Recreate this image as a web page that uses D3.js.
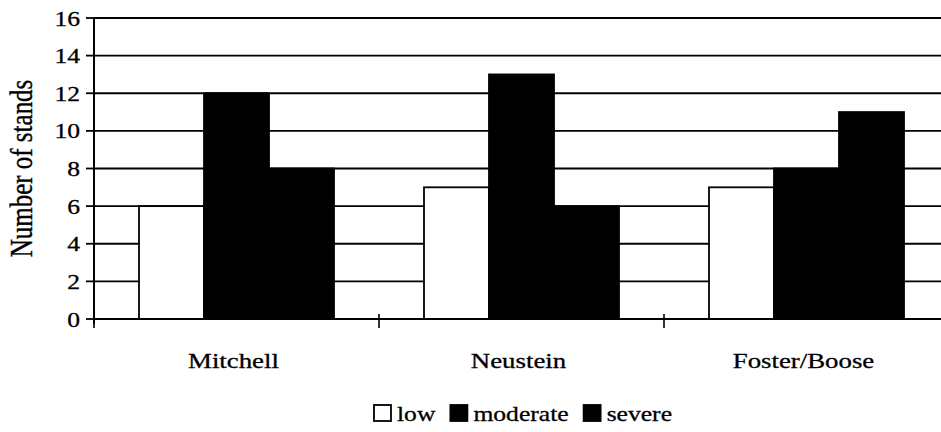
<!DOCTYPE html>
<html>
<head>
<meta charset="utf-8">
<style>
  body { margin: 0; background: #fff; }
  svg text { font-family: "Liberation Serif", "Times New Roman", serif; fill: #000; stroke: #000; stroke-width: 0.3px; }
</style>
</head>
<body>
<svg width="941" height="432"></svg>
<script src="https://d3js.org/d3.v7.min.js"></script>
<script>

// values
var categories = ["Mitchell", "Neustein", "Foster/Boose"];
var seriesNames = ["low", "moderate", "severe"];
var low = [6, 7, 7];
var moderate = [12, 13, 8];
var severe = [8, 6, 11];
var yTicks = [0, 2, 4, 6, 8, 10, 12, 14, 16];
var seriesColors = ["#fff", "#000", "#000"];

var svg = d3.select("svg"),
    width = +svg.attr("width"),
    height = +svg.attr("height");

// the scan is stretched sideways, so text gets stretched too
var sx = 1.22;

var plotLeft = 94, bandW = 285, plotTop = 18, plotBottom = 319;

var x0 = d3.scaleBand()
    .domain(categories)
    .range([plotLeft, plotLeft + bandW * categories.length])
    .paddingInner(0).paddingOuter(0);

var x1 = d3.scaleBand()
    .domain(seriesNames)
    .range([45, 240]);

var y = d3.scaleLinear()
    .domain([0, 16])
    .range([plotBottom, plotTop]);

var color = d3.scaleOrdinal().domain(seriesNames).range(seriesColors);

var rows = categories.map(function(c, i) {
  return {cat: c, values: [low[i], moderate[i], severe[i]]};
});

// gridlines
svg.append("g").selectAll("line")
  .data(yTicks.filter(function(d) { return d > 0; }))
  .enter().append("line")
    .attr("x1", plotLeft).attr("x2", width)
    .attr("y1", function(d) { return y(d); })
    .attr("y2", function(d) { return y(d); })
    .attr("stroke", "#000").attr("stroke-width", 1.8);

// bars
var group = svg.append("g").selectAll("g")
  .data(rows)
  .enter().append("g")
    .attr("transform", function(d) { return "translate(" + x0(d.cat) + ",0)"; });

group.selectAll("rect")
  .data(function(d) { return d.values.map(function(v, i) { return {key: seriesNames[i], value: v}; }); })
  .enter().append("rect")
    .attr("x", function(d) { return x1(d.key); })
    .attr("width", x1.bandwidth())
    .attr("y", function(d) { return y(d.value); })
    .attr("height", function(d) { return y(0) - y(d.value); })
    .attr("fill", function(d) { return color(d.key); })
    .attr("stroke", "#000").attr("stroke-width", 1.8);

// y axis
var yAxis = svg.append("g");
yAxis.append("line")
    .attr("x1", plotLeft).attr("x2", plotLeft)
    .attr("y1", y(16)).attr("y2", y(0) + 5)
    .attr("stroke", "#000").attr("stroke-width", 2);
yAxis.selectAll(".tick")
  .data(yTicks)
  .enter().append("line")
    .attr("x1", plotLeft - 8).attr("x2", plotLeft)
    .attr("y1", function(d) { return y(d); })
    .attr("y2", function(d) { return y(d); })
    .attr("stroke", "#000").attr("stroke-width", 1.8);
yAxis.selectAll("text")
  .data(yTicks)
  .enter().append("text")
    .attr("text-anchor", "end")
    .attr("font-size", 21)
    .attr("transform", function(d) { return "translate(80," + (y(d) + 7.5) + ") scale(" + sx + ",1)"; })
    .text(function(d) { return d; });

// x axis
var xAxis = svg.append("g");
xAxis.append("line")
    .attr("x1", plotLeft).attr("x2", width)
    .attr("y1", y(0)).attr("y2", y(0))
    .attr("stroke", "#000").attr("stroke-width", 2);
xAxis.selectAll(".tick")
  .data(categories)
  .enter().append("line")
    .attr("x1", function(d) { return x0(d); })
    .attr("x2", function(d) { return x0(d); })
    .attr("y1", y(0) - 5).attr("y2", y(0) + 9)
    .attr("stroke", "#000").attr("stroke-width", 1.6);
xAxis.selectAll("text")
  .data(categories)
  .enter().append("text")
    .attr("text-anchor", "middle")
    .attr("font-size", 22)
    .attr("transform", function(d) { return "translate(" + (x0(d) + x0.bandwidth() / 2 - 3) + ",368) scale(" + sx + ",1)"; })
    .text(function(d) { return d; });

// axis title
svg.append("text")
    .attr("text-anchor", "middle")
    .attr("font-size", 25)
    .attr("transform", "translate(32," + ((y(0) + y(16)) / 2) + ") rotate(-90) scale(1,1.28)")
    .text("Number of stands");

// legend
var legend = svg.append("g");
var lx = 0;
seriesNames.forEach(function(name) {
  var item = legend.append("g").attr("transform", "translate(" + lx + ",0)");
  item.append("rect")
      .attr("x", 0).attr("y", -16)
      .attr("width", 17).attr("height", 16)
      .attr("fill", color(name))
      .attr("stroke", "#000").attr("stroke-width", 1.8);
  var t = item.append("text")
      .attr("font-size", 21)
      .attr("transform", "translate(23,0) scale(" + sx + ",1)")
      .text(name);
  lx += 23 + t.node().getComputedTextLength() * sx + 15;
});
lx -= 15;
legend.attr("transform", "translate(" + (523 - lx / 2) + ",421)");

</script>
</body>
</html>
